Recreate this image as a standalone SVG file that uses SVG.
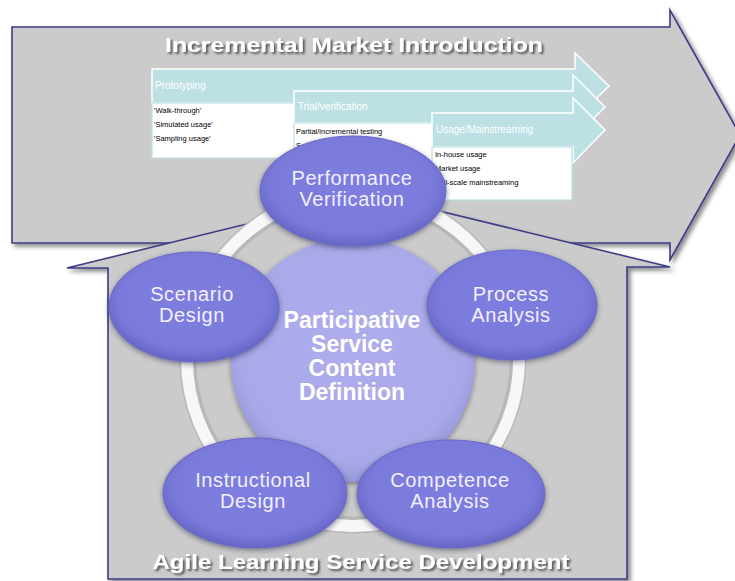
<svg xmlns="http://www.w3.org/2000/svg" width="735" height="581" viewBox="0 0 735 581">
<defs>
<filter id="sh" x="-10%" y="-10%" width="130%" height="130%">
<feDropShadow dx="3" dy="3" stdDeviation="2" flood-color="#000" flood-opacity="0.45"/>
</filter>
<filter id="tsh" x="-5%" y="-30%" width="110%" height="170%">
<feDropShadow dx="2" dy="2" stdDeviation="0.8" flood-color="#4a4a4a" flood-opacity="0.9"/>
</filter>
<filter id="esh" x="-15%" y="-15%" width="130%" height="140%">
<feDropShadow dx="0" dy="2" stdDeviation="2.5" flood-color="#202040" flood-opacity="0.5"/>
</filter>
<radialGradient id="eg" cx="50%" cy="45%" r="55%">
<stop offset="0" stop-color="#7e7ee0"/>
<stop offset="0.8" stop-color="#7a7adb"/>
<stop offset="1" stop-color="#6565c4"/>
</radialGradient>
<radialGradient id="cg" cx="50%" cy="45%" r="55%">
<stop offset="0" stop-color="#adacec"/>
<stop offset="0.85" stop-color="#a9a8e8"/>
<stop offset="1" stop-color="#9796d8"/>
</radialGradient>
<style>
.frame{fill:#cbcbcb;stroke:#3c3c86;stroke-width:1.6;stroke-linejoin:miter}
.sub{fill:#bde0e4;stroke:#ffffff;stroke-width:1.5}
.body{fill:#ffffff;stroke:#bde0e4;stroke-width:1.2}
.hdr{font-family:"Liberation Sans",Arial,sans-serif;font-size:10px;fill:#ffffff}
.bt{font-family:"Liberation Sans",Arial,sans-serif;font-size:7.5px;fill:#000000}
.node{fill:url(#eg);stroke:#6a6ac6;stroke-width:1;filter:url(#esh)}
.nt{font-family:"Liberation Sans",Arial,sans-serif;font-size:20px;letter-spacing:0.6px;fill:#f3efff;text-anchor:middle}
.ct{font-family:"Liberation Sans",Arial,sans-serif;font-size:23px;font-weight:bold;fill:#ffffff;text-anchor:middle}
.title{font-family:"Liberation Sans",Arial,sans-serif;font-size:20px;font-weight:bold;text-anchor:middle;fill:#ffffff;filter:url(#tsh)}
</style>
</defs>

<g id="market-arrow">
<path class="frame" filter="url(#sh)" d="M12,27 L670,27 L670,10 L740,135 L670,260 L670,243 L12,243 Z"/>
<text class="title" x="354" y="52" textLength="378" lengthAdjust="spacingAndGlyphs">Incremental Market Introduction</text>
</g>

<g id="prototyping">
<path class="sub" d="M152,69 L575,69 L575,53 L609,86 L575,119 L575,103 L152,103 Z"/>
<rect class="body" x="152" y="103" width="150" height="55"/>
<text class="hdr" x="155" y="89">Prototyping</text>
<text class="bt" x="154" y="113">'Walk-through'</text>
<text class="bt" x="154" y="127">'Simulated  usage'</text>
<text class="bt" x="154" y="141">'Sampling  usage'</text>
</g>

<g id="trial">
<path class="sub" d="M294,91 L573,91 L573,75 L605,107 L573,139 L573,123 L294,123 Z"/>
<rect class="body" x="294" y="123" width="140" height="55"/>
<text class="hdr" x="298" y="110">Trial/verification</text>
<text class="bt" x="296" y="134">Partial/incremental  testing</text>
<text class="bt" x="296" y="148">S</text>
</g>

<g id="usage">
<path class="sub" d="M432,113 L573,113 L573,98 L605,130 L573,163 L573,147 L432,147 Z"/>
<rect class="body" x="432" y="147" width="140" height="53"/>
<text class="hdr" x="436" y="133">Usage/Mainstreaming</text>
<text class="bt" x="435" y="157">In-house usage</text>
<text class="bt" x="435" y="171">Market usage</text>
<text class="bt" x="435" y="185">Full-scale mainstreaming</text>
</g>

<g id="learning-house">
<path class="frame" filter="url(#sh)" d="M108,579 L108,268 L67,268 L369,194 L670,267 L627,267 L627,579 Z"/>
<text class="title" x="361" y="569" textLength="417" lengthAdjust="spacingAndGlyphs">Agile Learning Service Development</text>
</g>

<g id="connectors">
<circle cx="353" cy="360" r="165" fill="none" stroke="#b8b8b8" stroke-width="17"/>
<circle cx="353" cy="360" r="166" fill="none" stroke="#f7f7f7" stroke-width="12"/>
</g>

<g id="center">
<circle cx="353" cy="360" r="122" fill="url(#cg)" filter="url(#esh)"/>
<text class="ct" x="352" y="328">Participative</text>
<text class="ct" x="352" y="352">Service</text>
<text class="ct" x="352" y="376">Content</text>
<text class="ct" x="352" y="400">Definition</text>
</g>

<g id="performance-verification">
<ellipse class="node" cx="353" cy="191" rx="93" ry="55"/>
<text class="nt" x="352" y="185">Performance</text>
<text class="nt" x="352" y="206">Verification</text>
</g>

<g id="process-analysis">
<ellipse class="node" cx="512" cy="305" rx="85" ry="55"/>
<text class="nt" x="511" y="301">Process</text>
<text class="nt" x="511" y="322">Analysis</text>
</g>

<g id="competence-analysis">
<ellipse class="node" cx="451" cy="494" rx="94" ry="54"/>
<text class="nt" x="450" y="487">Competence</text>
<text class="nt" x="450" y="508">Analysis</text>
</g>

<g id="instructional-design">
<ellipse class="node" cx="255" cy="493" rx="92" ry="55"/>
<text class="nt" x="253" y="487">Instructional</text>
<text class="nt" x="253" y="508">Design</text>
</g>

<g id="scenario-design">
<ellipse class="node" cx="194" cy="307" rx="85" ry="55"/>
<text class="nt" x="192" y="301">Scenario</text>
<text class="nt" x="192" y="322">Design</text>
</g>
</svg>
